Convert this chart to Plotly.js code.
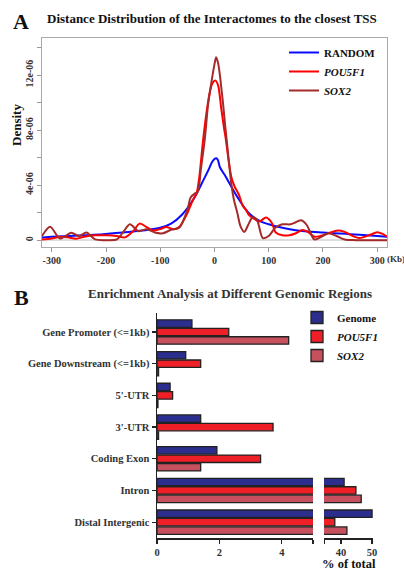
<!DOCTYPE html>
<html>
<head>
<meta charset="utf-8">
<script src="https://cdn.plot.ly/plotly-3.0.1.min.js"></script>
<style>
html,body{margin:0;padding:0;background:#fff;}
#chart{width:404px;height:570px;}
</style>
</head>
<body>
<div id="chart"></div>
<script>
// ---------- Panel A data (distance in kb, density) ----------
var randomX = [-318,-300,-250,-200,-150,-100,-80,-60,-40,-20,-10,-5,0,3,6,10,21,28,46,64,83,100,125,150,200,250,300,318];
var randomY = [0.2,0.24,0.33,0.45,0.62,0.9,1.2,1.85,2.9,4.4,5.2,5.65,5.9,5.95,5.85,5.3,4.6,4.1,2.9,1.94,1.4,1.15,0.9,0.72,0.55,0.43,0.3,0.25];

var pouX = [-318,-300,-285,-270,-255,-240,-220,-200,-180,-165,-150,-138,-125,-114,-100,-89,-75,-65,-52,-40,-33,-28,-21,-15,-9,-4,2,7,12,17,21,26,31,37,45,52,58,64,77,83,95,105,113,125,138,150,162,172,184,195,210,227,240,255,267,285,300,310,318];
var pouY = [0.05,0.12,0.25,0.2,0.1,0.25,0.35,0.35,0.3,0.2,0.65,1.2,0.95,0.7,0.8,0.95,0.8,0.95,1.8,2.9,3.4,4.6,7.3,9.2,10.7,11.4,11.6,11.2,9.7,8.3,7.3,5.8,4.6,3.9,3.3,2.5,2.2,1.8,1.45,1.35,1.65,1.3,0.55,0.35,0.35,0.5,0.73,0.6,0.25,0.3,0.5,0.7,0.6,0.3,0.15,0.35,0.58,0.45,0.25];

var soxX = [-318,-303,-285,-264,-250,-236,-220,-200,-180,-168,-156,-140,-125,-110,-95,-80,-65,-50,-44,-36,-31,-25,-18,-12,-6,0,3,7,15,20,24.5,31,36,42,48,55,62,70,78,89,100,112,125,140,150,160,170,184,195,210,225,240,260,300,318];
var soxY = [0.3,0.97,0.12,0.53,0.3,0.55,0.05,0.0,0.05,0.6,1.15,0.65,0.8,0.55,0.5,0.75,0.9,2.2,3.1,3.4,3.5,5.2,7.3,9.8,11.4,12.8,13.3,12.8,10.2,8.2,6.5,4.1,2.9,2.0,1.0,0.6,1.1,1.65,1.5,0.15,0.3,0.9,1.15,1.15,1.3,1.45,1.1,0.05,0.2,0.5,0.3,0.05,0.0,0.0,0.0];

var densityScale = 1e-6;
var xTickVals = [-300,-200,-100,0,100,200,300];
var xTickText = ['-300','-200','-100','0','100','200','300'];
var yTickVals = [0,2e-6,4e-6,6e-6,8e-6,10e-6,12e-6,14e-6];
var yTickText = ['0','','4e-06','','8e-06','','12e-06',''];

// ---------- Panel B data (% of total) ----------
var regions = ['Gene Promoter (<=1kb)','Gene Downstream (<=1kb)',"5'-UTR","3'-UTR",'Coding Exon','Intron','Distal Intergenic'];
var genome  = [1.12,0.92,0.42,1.4,1.92,41.0,50.0];
var pou5f1  = [2.3,1.4,0.5,3.72,3.32,44.8,38.0];
var sox2    = [4.22,0.05,0.03,0.05,1.4,46.5,41.9];
var lowTickVals = [0,2,4,5];
var lowTickText = ['0','2','4',''];
var highTickVals = [34.6,40,50];
var highTickText = ['','40','50'];

var serif = "'Liberation Serif', 'Times New Roman', serif";
function scaled(arr){ return arr.map(function(v){ return v*densityScale; }); }

var traces = [
  {x: randomX, y: scaled(randomY), type:'scatter', mode:'lines', name:'<b>RANDOM</b>',
   line:{color:'#0a0aff', width:2, shape:'spline', smoothing:1}, xaxis:'x', yaxis:'y', legend:'legend'},
  {x: pouX, y: scaled(pouY), type:'scatter', mode:'lines', name:'<b><i>POU5F1</i></b>',
   line:{color:'#ff0000', width:2, shape:'spline', smoothing:0.8}, xaxis:'x', yaxis:'y', legend:'legend'},
  {x: soxX, y: scaled(soxY), type:'scatter', mode:'lines', name:'<b><i>SOX2</i></b>',
   line:{color:'#a52a2a', width:2, shape:'spline', smoothing:0.8}, xaxis:'x', yaxis:'y', legend:'legend'}
];

var barColors = ['#2b2e8c','#ee1f26','#c6505d'];
var barNames = ['<b>Genome</b>','<b><i>POU5F1</i></b>','<b><i>SOX2</i></b>'];
var barData = [genome, pou5f1, sox2];
[['x2',true],['x3',false]].forEach(function(ax){
  for (var i=0;i<3;i++){
    traces.push({
      type:'bar', orientation:'h', y: regions, x: barData[i], name: barNames[i],
      marker:{color: barColors[i], line:{color:'#222', width:1.3}},
      xaxis: ax[0], yaxis:'y2', showlegend: ax[1], legend:'legend2', cliponaxis:true
    });
  }
});

function px(v){ return v/404; }
function py(v){ return 1 - v/570; }

var tickFontA = {family:serif, size:10, weight:'bold', color:'#333'};
var tickFontB = {family:serif, size:10.5, weight:'bold', color:'#333'};

var layout = {
  width:404, height:570,
  margin:{l:0,r:0,t:0,b:0},
  paper_bgcolor:'#fff', plot_bgcolor:'rgba(0,0,0,0)',
  font:{family: serif, color:'#222'},
  barmode:'group', bargap:0.2, bargroupgap:0.12,
  showlegend:true,
  xaxis:{domain:[px(42),px(387)], range:[-318,318], anchor:'y',
    tickvals:xTickVals, ticktext:xTickText, ticks:'outside', ticklen:4, tickcolor:'#999',
    showline:true, linecolor:'#aaa', linewidth:1.2, mirror:true, showgrid:false, zeroline:false,
    tickfont:tickFontA},
  yaxis:{domain:[py(247),py(38)], range:[-0.5e-6,14.7e-6], anchor:'x',
    tickvals:yTickVals, ticktext:yTickText, tickangle:-90, ticks:'outside', ticklen:4, tickcolor:'#999',
    showline:true, linecolor:'#aaa', linewidth:1.2, mirror:true, showgrid:false,
    zeroline:true, zerolinecolor:'#dddddd', zerolinewidth:2,
    tickfont:tickFontA},
  xaxis2:{domain:[px(157),px(313)], range:[0,5], anchor:'y2',
    tickvals:lowTickVals, ticktext:lowTickText, ticks:'outside', ticklen:4, tickcolor:'#222', tickwidth:1.3,
    showline:true, linecolor:'#222', linewidth:1.5, showgrid:false, zeroline:false,
    tickfont:tickFontB},
  xaxis3:{domain:[px(324),px(373)], range:[34.52,50.3], anchor:'y2',
    tickvals:highTickVals, ticktext:highTickText, ticks:'outside', ticklen:4, tickcolor:'#222', tickwidth:1.3,
    showline:true, linecolor:'#222', linewidth:1.5, showgrid:false, zeroline:false,
    tickfont:tickFontB},
  yaxis2:{domain:[py(538),py(313)], type:'category', range:[6.5,-0.6], anchor:'x2',
    ticks:'outside', ticklen:4, tickcolor:'#222', tickwidth:1.3,
    showline:true, linecolor:'#222', linewidth:1.5, showgrid:false, zeroline:false,
    tickfont:tickFontB},
  legend:{x:px(284), y:py(38), xanchor:'left', yanchor:'top', bgcolor:'rgba(0,0,0,0)',
    font:{family:serif, size:11, color:'#111'}, tracegroupgap:0},
  legend2:{x:px(297), y:py(303), xanchor:'left', yanchor:'top', bgcolor:'rgba(0,0,0,0)',
    font:{family:serif, size:11, color:'#111'}, tracegroupgap:0},
  annotations:[
    {text:'<b>A</b>', xref:'paper', yref:'paper', x:px(21), y:py(21), xanchor:'center', yanchor:'middle', showarrow:false,
     font:{family:serif, size:22, color:'#111'}},
    {text:'<b>Distance Distribution of the Interactomes to the closest TSS</b>', xref:'paper', yref:'paper',
     x:px(212), y:py(19), xanchor:'center', yanchor:'middle', showarrow:false,
     font:{family:serif, size:13, color:'#111'}},
    {text:'<b>Density</b>', xref:'paper', yref:'paper', x:px(16), y:py(125), xanchor:'center', yanchor:'middle',
     textangle:-90, showarrow:false, font:{family:serif, size:13, color:'#111'}},
    {text:'<b>(Kb)</b>', xref:'paper', yref:'paper', x:px(385), y:py(259), xanchor:'left', yanchor:'middle',
     showarrow:false, font:{family:serif, size:9, color:'#333'}},
    {text:'<b>B</b>', xref:'paper', yref:'paper', x:px(21), y:py(297), xanchor:'center', yanchor:'middle', showarrow:false,
     font:{family:serif, size:22, color:'#111'}},
    {text:'<b>Enrichment Analysis at Different Genomic Regions</b>', xref:'paper', yref:'paper',
     x:px(230), y:py(293), xanchor:'center', yanchor:'middle', showarrow:false,
     font:{family:serif, size:13, color:'#333'}},
    {text:'<b>% of total</b>', xref:'paper', yref:'paper', x:px(349), y:py(564), xanchor:'center', yanchor:'middle',
     showarrow:false, font:{family:serif, size:12.5, color:'#111'}}
  ]
};

Plotly.newPlot('chart', traces, layout, {displayModeBar:false, staticPlot:true});
</script>
</body>
</html>
